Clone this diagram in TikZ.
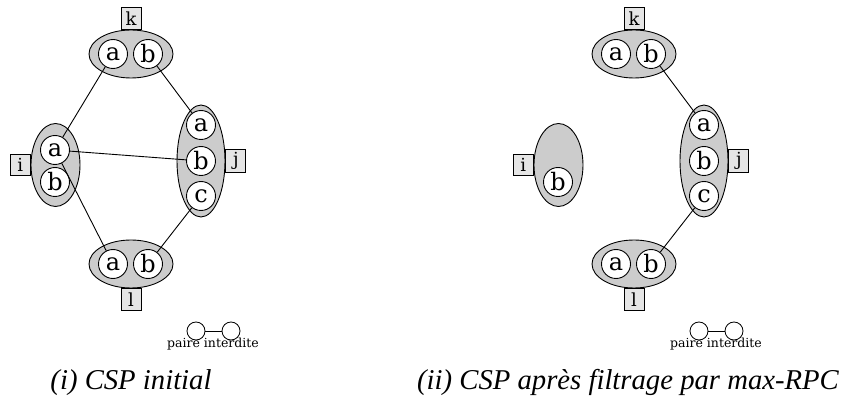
\documentclass[tikz,border=0pt]{standalone}
\usepackage{fontspec}
\setmainfont{DejaVu Serif}
\newfontfamily\capfont{Liberation Serif}
\usetikzlibrary{shapes.geometric}
\usetikzlibrary{positioning}

\begin{document}
\begin{tikzpicture}[
    x=1pt, y=-1pt,
    dom/.style={ellipse, draw, fill=gray!40, line width=0.9pt, inner sep=0pt},
    val/.style={circle, draw, fill=white, minimum size=29pt, inner sep=0pt, line width=0.9pt, font=\fontsize{24}{26}\selectfont},
    var/.style={rectangle, draw, fill=gray!20, minimum width=20pt, minimum height=21.5pt, inner xsep=4.5pt, inner ysep=3pt, line width=0.8pt, font=\fontsize{18}{20}\selectfont},
    lgpair/.style={circle, draw, fill=white, minimum size=18pt, inner sep=0pt, line width=0.8pt},
    conflict/.style={line width=0.9pt}
]
\useasboundingbox (0,0) rectangle (844,398);

\foreach \p/\dx in {L/0, R/503}
{
    % --- Domains ---
    \node[dom, minimum width=84pt, minimum height=48pt] (k\p) at (131+\dx,54) {};
    \node[dom, minimum width=84pt, minimum height=48pt] (l\p) at (131+\dx,264) {};
    \node[dom, minimum width=48pt, minimum height=112pt] (j\p) at (201+\dx,161) {};
    \node[dom, minimum width=49pt, minimum height=83pt] (i\p) at (55.5+\dx,165) {};

    % --- Variable names ---
    \node[var, above=0pt of k\p] (vk\p) {k};
    \node[var, below=0pt of l\p] (vl\p) {l};
    \node[var, right=0pt of j\p] (vj\p) {j};
    \node[var, left=0pt of i\p] (vi\p) {i};

    % --- Values of k, l and j ---
    \foreach \v/\xx in {a/113, b/148}
    {
        \node[val] (k\p\v) at (\xx+\dx,54) {\v};
        \node[val] (l\p\v) at (\xx+\dx,264) {\v};
    }
    \foreach \v/\yy in {a/125, b/161, c/196}
        \node[val] (j\p\v) at (201+\dx,\yy) {\v};

    % --- Legend ---
    \node[lgpair] (pa\p) at (196+\dx,331) {};
    \node[lgpair] (pb\p) at (231+\dx,331) {};
    \draw[conflict] (pa\p) -- (pb\p);
    \node[anchor=base, font=\fontsize{12.5}{14}\selectfont] (pt\p) at (213+\dx,348) {paire interdite};
}

% --- Values of i (a is removed after filtering) ---
\node[val] (iLa) at (55,150) {a};
\node[val] (iLb) at (55,182) {b};
\node[val] (iRb) at (558,182) {b};

% --- Forbidden pairs, initial CSP ---
\draw[conflict] (kLa) -- (iLa);
\draw[conflict] (kLb) -- (jLa);
\draw[conflict] (iLa) -- (jLb);
\draw[conflict] (iLa) -- (lLa);
\draw[conflict] (jLc) -- (lLb);

% --- Forbidden pairs, after max-RPC ---
\draw[conflict] (kRb) -- (jRa);
\draw[conflict] (jRc) -- (lRb);

% --- Captions ---
\node[anchor=base, font=\capfont\itshape\fontsize{28.7}{30}\selectfont] (capL) at (131,389) {(i) CSP initial};
\node[anchor=base, font=\capfont\itshape\fontsize{28.7}{30}\selectfont] (capR) at (628,389) {(ii) CSP après filtrage par max-RPC};

\end{tikzpicture}
\end{document}
